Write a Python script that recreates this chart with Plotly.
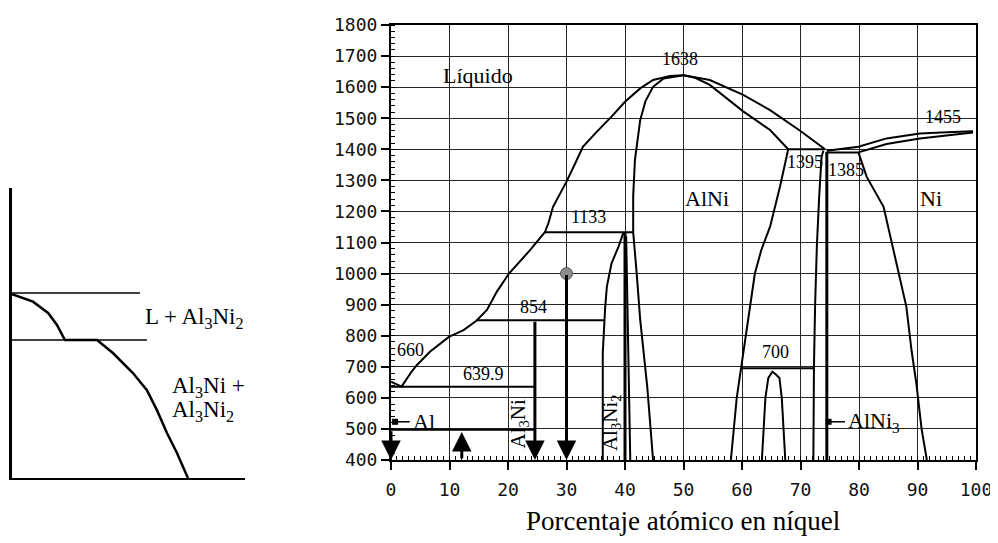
import plotly.graph_objects as go

# ---------------- data: Al-Ni phase diagram (at.% Ni, temperature °C) ----------------
liq_left_x = [0, 1.8, 3.5, 4.4, 6.7, 9.9, 12.4, 14.6, 16.4, 18.1, 20.2, 23.8, 26.3, 26.9, 27.7,
              28.9, 30.0, 31.5, 32.8, 35.2, 37.7, 40.0, 42.6, 44.8, 47.7, 50]
liq_left_T = [652, 636, 684, 705, 749, 796, 818, 848, 883, 942, 1001, 1076, 1133, 1162, 1215,
              1258, 1296, 1355, 1408, 1457, 1505, 1553, 1596, 1623, 1636, 1638]

alni_left_x = [50, 46.6, 44.8, 43.5, 42.6, 41.7, 41.4, 41.4, 42.0, 42.6, 43.8, 44.8]
alni_left_T = [1638, 1628, 1601, 1555, 1494, 1366, 1250, 1133, 1000, 851, 636, 400]

alni_sol_x = [50, 52, 54.5, 57, 60.2, 64.8, 67.9]
alni_sol_T = [1638, 1630, 1607, 1570, 1522, 1462, 1400]

liq_right_x = [50, 54.5, 60.2, 64.8, 70.0, 74.2]
liq_right_T = [1638, 1623, 1575, 1526, 1459, 1400]

alni_right_x = [67.9, 66.5, 64.8, 63.3, 62.2, 61.4, 60.7, 59.9, 59.1, 58.6, 58.1]
alni_right_T = [1400, 1280, 1151, 1076, 1000, 900, 800, 700, 600, 500, 400]

alni3_left_x = [73.9, 73.6, 73.2, 72.8, 72.5, 72.3, 72.2]
alni3_left_T = [1395, 1375, 1250, 1090, 900, 700, 400]
alni3_right_x = [74.5, 74.5]
alni3_right_T = [1392, 400]

al3ni5_x = [63.4, 63.7, 64.0, 64.5, 65.2, 65.8, 66.4, 66.8, 67.1, 67.4]
al3ni5_T = [400, 500, 600, 664, 684, 675, 664, 600, 500, 400]

ni_liq_x = [74.5, 77, 79.9, 84.7, 90.4, 95, 99.5]
ni_liq_T = [1395, 1400, 1408, 1435, 1451, 1455, 1458]
ni_sol_x = [79.9, 84.7, 90.4, 96.1, 99.5]
ni_sol_T = [1390, 1417, 1435, 1446, 1454]

ni_solvus_x = [79.9, 81.3, 84.2, 87.0, 88.1, 89.0, 89.8, 90.7, 91.6]
ni_solvus_T = [1390, 1312, 1215, 990, 893, 750, 647, 500, 400]

al3ni2_left_x = [39.7, 38.9, 37.7, 36.9, 36.6, 36.2, 36.2]
al3ni2_left_T = [1130, 1087, 1033, 958, 888, 744, 400]
al3ni2_mid_x = [40.0, 40.0]
al3ni2_mid_T = [1133, 400]
al3ni2_right_x = [40.2, 40.9]
al3ni2_right_T = [1120, 400]

# invariant lines
iso_T = [1400, 1390, 1133, 850, 695, 636, 497]
iso_x0 = [67.9, 74.5, 26.3, 14.6, 59.9, 0.0, 0.0]
iso_x1 = [74.2, 79.9, 41.4, 36.4, 72.3, 24.6, 24.6]

# vertical line compounds / arrows (composition, from T, to T)
arrow_x = [0.0, 12.1, 24.6, 30.0]
arrow_from = [497, 400, 850, 1000]
arrow_to = [400, 490, 400, 400]

alloy_x = [30.0]
alloy_T = [1000]

# labels
num_labels = ["1638", "1455", "1395", "1385", "1133", "854", "660", "639.9", "700"]
num_x = [49.4, 94.4, 70.8, 77.7, 33.7, 24.3, 3.4, 15.8, 65.8]
num_T = [1690, 1505, 1360, 1333, 1183, 893, 754, 677, 749]

phase_labels = ["Líquido", "AlNi", "Ni"]
phase_x = [14.8, 54.0, 92.3]
phase_T = [1636, 1242, 1242]

# cooling curve (schematic, time vs temperature in relative units)
cool_t = [0, 9.0, 15.5, 19.3, 22.7, 36.5, 43.3, 51.9, 57.9, 62.2, 66.5, 70.8, 75.5]
cool_T = [63.4, 60.8, 56.9, 52.8, 47.6, 47.6, 43.1, 36.2, 30.3, 23.4, 15.5, 8.6, 0]
cool_level_T = [63.8, 47.6]
cool_level_end = [54.9, 57.9]

x_ticks = list(range(0, 101, 10))
y_ticks = list(range(400, 1801, 100))

# page is 998x543; the browser body has an 8px margin, so the figure is 990x535
OFF = 8
W, H = 998 - OFF, 543 - OFF


def px(xp):
    return (xp - OFF) / W


def py(yp):
    return 1 - (yp - OFF) / H


SERIF = "Liberation Serif, Times New Roman, serif"
MONO = "DejaVu Sans Mono, monospace"

fig = go.Figure()


def line(x, y, w=2.0, xa="x", ya="y"):
    fig.add_trace(go.Scatter(x=x, y=y, mode="lines", xaxis=xa, yaxis=ya,
                             line=dict(color="black", width=w),
                             hoverinfo="skip", showlegend=False))


for xs, ys in [(liq_left_x, liq_left_T), (alni_left_x, alni_left_T), (alni_sol_x, alni_sol_T),
               (liq_right_x, liq_right_T), (alni_right_x, alni_right_T),
               (alni3_left_x, alni3_left_T), (al3ni5_x, al3ni5_T),
               (ni_liq_x, ni_liq_T), (ni_sol_x, ni_sol_T), (ni_solvus_x, ni_solvus_T),
               (al3ni2_left_x, al3ni2_left_T), (al3ni2_right_x, al3ni2_right_T)]:
    line(xs, ys, 2.0)
line(alni3_right_x, alni3_right_T, 3.0)
line(al3ni2_mid_x, al3ni2_mid_T, 3.0)

for T, a, b in zip(iso_T, iso_x0, iso_x1):
    line([a, b], [T, T], 2.0)

# marker lines for Al and AlNi3
line([0.7, 3.2], [523, 523], 1.5)
line([74.8, 77.6], [523, 523], 1.5)
fig.add_trace(go.Scatter(x=[0.7, 74.8], y=[523, 523], mode="markers",
                         marker=dict(symbol="square", size=6, color="black"),
                         hoverinfo="skip", showlegend=False))

annotations = []
# arrows
for xa_, f, t in zip(arrow_x, arrow_from, arrow_to):
    annotations.append(dict(x=xa_, y=t, ax=xa_, ay=f, xref="x", yref="y", axref="x", ayref="y",
                            text="", showarrow=True, arrowhead=2, arrowsize=1.3,
                            arrowwidth=3, arrowcolor="black", standoff=0))

fig.add_trace(go.Scatter(x=alloy_x, y=alloy_T, mode="markers",
                         marker=dict(size=12, color="#8c8c8c", line=dict(color="#555", width=1)),
                         hoverinfo="skip", showlegend=False))

for s, xv, tv in zip(num_labels, num_x, num_T):
    annotations.append(dict(x=xv, y=tv, xref="x", yref="y", text=s, showarrow=False,
                            font=dict(family=SERIF, size=18, color="black")))
for s, xv, tv in zip(phase_labels, phase_x, phase_T):
    annotations.append(dict(x=xv, y=tv, xref="x", yref="y", text=s, showarrow=False,
                            font=dict(family=SERIF, size=22, color="black")))

annotations.append(dict(x=3.5, y=523, xref="x", yref="y", text="Al", showarrow=False, xanchor="left",
                        font=dict(family=SERIF, size=22, color="black")))
annotations.append(dict(x=77.8, y=523, xref="x", yref="y", text="AlNi<sub>3</sub>", showarrow=False,
                        xanchor="left", font=dict(family=SERIF, size=22, color="black")))
annotations.append(dict(x=21.8, y=516, xref="x", yref="y", text="Al<sub>3</sub>Ni", showarrow=False,
                        textangle=-90, font=dict(family=SERIF, size=21, color="black")))
annotations.append(dict(x=37.6, y=522, xref="x", yref="y", text="Al<sub>3</sub>Ni<sub>2</sub>",
                        showarrow=False, textangle=-90, font=dict(family=SERIF, size=21, color="black")))

annotations.append(dict(x=px(683), y=py(521), xref="paper", yref="paper",
                        xanchor="center", yanchor="middle",
                        text="Porcentaje atómico en níquel", showarrow=False,
                        font=dict(family=SERIF, size=27, color="black")))

# ---------------- cooling curve ----------------
line(cool_t, cool_T, 2.5, "x2", "y2")
for T, e in zip(cool_level_T, cool_level_end):
    line([0, e], [T, T], 1.5, "x2", "y2")

annotations.append(dict(x=56.2, y=55.2, xref="x2", yref="y2", text="L + Al<sub>3</sub>Ni<sub>2</sub>",
                        showarrow=False, xanchor="left", font=dict(family=SERIF, size=23, color="black")))
annotations.append(dict(x=67.8, y=31.4, xref="x2", yref="y2", text="Al<sub>3</sub>Ni +",
                        showarrow=False, xanchor="left", font=dict(family=SERIF, size=23, color="black")))
annotations.append(dict(x=67.8, y=23.0, xref="x2", yref="y2", text="Al<sub>3</sub>Ni<sub>2</sub>",
                        showarrow=False, xanchor="left", font=dict(family=SERIF, size=23, color="black")))
annotations.append(dict(x=70.8, y=-9.3, xref="x2", yref="y2", text="Tiempo",
                        showarrow=False, font=dict(family=SERIF, size=26, color="black")))

fig.update_layout(
    width=W, height=H, autosize=False,
    margin=dict(l=0, r=0, t=0, b=0),
    paper_bgcolor="white", plot_bgcolor="white",
    showlegend=False,
    annotations=annotations,
    xaxis=dict(domain=[px(391), px(976)], range=[0, 100], tickvals=x_ticks,
               showgrid=True, gridcolor="#262626", gridwidth=1.3, zeroline=False,
               showline=True, linecolor="black", linewidth=2, mirror=True,
               ticks="outside", ticklen=8, tickwidth=1.5, tickcolor="black",
               ticklabelstandoff=4,
               tickfont=dict(family=MONO, size=18, color="#111"),
               minor=dict(dtick=1, tick0=0, ticks="inside", ticklen=4, tickwidth=1,
                          tickcolor="black", showgrid=False),
               automargin=False, fixedrange=True),
    yaxis=dict(domain=[py(460), py(25)], range=[400, 1800], tickvals=y_ticks,
               showgrid=True, gridcolor="#262626", gridwidth=1.3, zeroline=False,
               showline=True, linecolor="black", linewidth=2, mirror=True,
               ticks="outside", ticklen=8, tickwidth=1.5, tickcolor="black",
               tickfont=dict(family=MONO, size=18, color="#111"),
               minor=dict(dtick=20, tick0=400, ticks="inside", ticklen=4, tickwidth=1,
                          tickcolor="black", showgrid=False),
               automargin=False, fixedrange=True),
    xaxis2=dict(domain=[px(12), px(245)], range=[0, 100], anchor="y2",
                showgrid=False, zeroline=False, showticklabels=False, ticks="",
                showline=True, linecolor="black", linewidth=2, automargin=False, fixedrange=True),
    yaxis2=dict(domain=[py(478), py(188)], range=[0, 100], anchor="x2",
                showgrid=False, zeroline=False, showticklabels=False, ticks="",
                showline=True, linecolor="black", linewidth=3, automargin=False, fixedrange=True),
)

fig.write_html("out.html")
